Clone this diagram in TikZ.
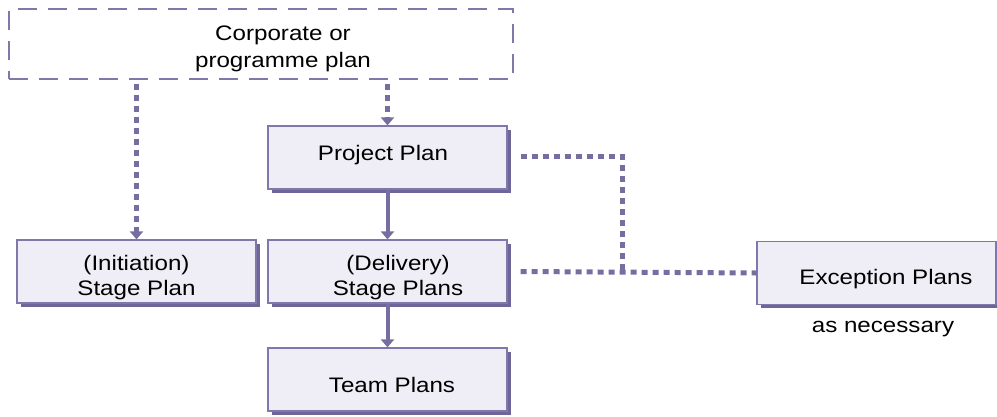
\documentclass[tikz,border=0pt]{standalone}
\usepackage{fontspec}
\setmainfont{Liberation Sans}[FakeStretch=1.15]
\usetikzlibrary{arrows.meta,shadows,calc}
\definecolor{boxfill}{HTML}{EFEEF6}
\definecolor{boxline}{HTML}{8078AA}
\definecolor{shadowc}{HTML}{6E6699}
\definecolor{linec}{HTML}{766EA0}
\tikzset{
  planbox/.style={draw=boxline, line width=1.2pt, fill=boxfill, minimum width=239pt, minimum height=63pt,
    inner sep=0pt,
    drop shadow={shadow xshift=3.5pt, shadow yshift=-3.5pt, fill=shadowc, opacity=1}},
  topbox/.style={draw=boxline, line width=1.2pt, dash pattern=on 19pt off 11pt, minimum width=504pt, minimum height=70pt, inner sep=0pt},
  dotline/.style={draw=linec, line width=5pt, dash pattern=on 6pt off 5pt},
  solidline/.style={draw=linec, line width=4pt},
  tip/.style={-{Triangle[width=13pt,length=8pt]}},
  boxtext/.style={align=center, inner sep=0pt, font=\fontsize{21}{25.5}\selectfont},
  toptext/.style={align=center, inner sep=0pt, font=\fontsize{21}{26.5}\selectfont}
}
\begin{document}
\begin{tikzpicture}[x=1pt,y=-1pt]
\useasboundingbox (0,0) rectangle (997,416);
\node[topbox] (top) at (261,44) {};
\node[toptext] (toptxt) at (283,49) {Corporate or\\programme plan};
\node[planbox] (pp) at (387.5,157.5) {};
\node[boxtext] (pptxt) at (383,155) {Project Plan};
\node[planbox] (ini) at (136.5,271.5) {};
\node[boxtext] (initxt) at (136.5,277.5) {(Initiation)\\Stage Plan};
\node[planbox] (dp) at (387.5,271.5) {};
\node[boxtext] (dptxt) at (398,277.5) {(Delivery)\\Stage Plans};
\node[planbox] (tp) at (387.5,379.5) {};
\node[boxtext] (tptxt) at (392,385) {Team Plans};
\node[planbox] (ex) at (876.5,273) {};
\node[boxtext] (extxt) at (886,279) {Exception Plans};
\node[boxtext] (asn) at (883,329) {as necessary};
\coordinate (ppR) at ($(pp.east)+(13,-1)$);
\coordinate (dpR) at ($(dp.east)+(13,0)$);
\coordinate (junc) at (622,271.5);
\draw[dotline,tip] ($(top.south -| ini.north)+(0,4)$) -- (ini.north);
\draw[dotline,tip] ($(top.south -| pp.north)+(0,4)$) -- (pp.north);
\draw[dotline] (ppR) -| (junc);
\draw[dotline] (dpR) -- (ex.west);
\draw[solidline,tip] (pp.south) -- (dp.north);
\draw[solidline,tip] (dp.south) -- (tp.north);
\end{tikzpicture}
\end{document}
